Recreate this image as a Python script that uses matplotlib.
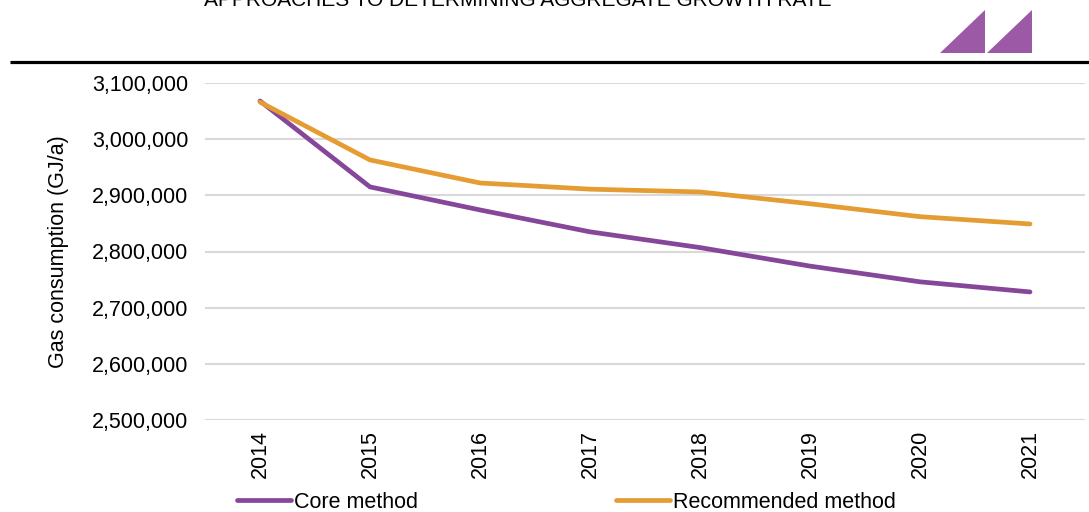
import matplotlib
matplotlib.use("Agg")
import matplotlib.pyplot as plt
from matplotlib.patches import Polygon
from matplotlib.ticker import FuncFormatter

years = ["2014", "2015", "2016", "2017", "2018", "2019", "2020", "2021"]
core_method = [3068000, 2915000, 2874000, 2835000, 2807000, 2774000, 2746000, 2728000]
recommended_method = [3066000, 2963000, 2922000, 2911000, 2906000, 2885000, 2862000, 2849000]
y_ticks = [2500000, 2600000, 2700000, 2800000, 2900000, 3000000, 3100000]

title = "APPROACHES TO DETERMINING AGGREGATE GROWTH RATE"
purple = "#86479A"
orange = "#E59C33"
logo = "#9B59A6"

plt.rcParams['font.family'] = ['Liberation Sans', 'DejaVu Sans']
FS = 15.5

W, H = 1089, 512
fig = plt.figure(figsize=(W / 100, H / 100), dpi=100)

# overlay axes in pixel coordinates for decorations
deco = fig.add_axes([0, 0, 1, 1], zorder=0)
deco.set_xlim(0, W)
deco.set_ylim(H, 0)
deco.axis("off")
deco.plot([10, W], [62, 62], color="black", lw=2.3, solid_capstyle="butt")
deco.add_patch(Polygon([(940, 53), (985, 53), (985, 10)], closed=True, color=logo, lw=0))
deco.add_patch(Polygon([(987, 53), (1032, 53), (1032, 10)], closed=True, color=logo, lw=0))
deco.text(518, 6, title, ha="center", va="baseline", fontsize=15, color="black")

ax = fig.add_axes([205 / W, 1 - 420 / H, (1085 - 205) / W, (420 - 83) / H], zorder=1)
ax.patch.set_alpha(0)
x = list(range(len(years)))
ax.plot(x, core_method, color=purple, lw=3.4, solid_capstyle="round", solid_joinstyle="round", label="Core method")
ax.plot(x, recommended_method, color=orange, lw=3.4, solid_capstyle="round", solid_joinstyle="round", label="Recommended method")

ax.set_xlim(-0.5, len(years) - 0.5)
ax.set_ylim(y_ticks[0], y_ticks[-1])
ax.set_yticks(y_ticks)
ax.yaxis.set_major_formatter(FuncFormatter(lambda v, p: f"{int(v):,}"))
ax.set_xticks(x)
ax.set_xticklabels(years, rotation=90)
ax.tick_params(axis="both", length=0, labelsize=FS)
ax.tick_params(axis="y", pad=12)
ax.tick_params(axis="x", pad=7)
for s in ax.spines.values():
    s.set_visible(False)
ax.grid(axis="y", color="#d9d9d9", lw=1.5)
ax.set_axisbelow(True)
ax.set_ylabel("Gas consumption (GJ/a)", fontsize=FS)
ax.yaxis.set_label_coords(-136 / 880, 0.5)

leg = ax.legend(loc="center left", bbox_to_anchor=(32 / 880, (420 - 502) / 337), ncol=2,
                frameon=False, fontsize=FS, handlelength=2.5, handletextpad=0.15,
                columnspacing=9.2, borderaxespad=0, borderpad=0)

fig.savefig("out.png", dpi=100)
